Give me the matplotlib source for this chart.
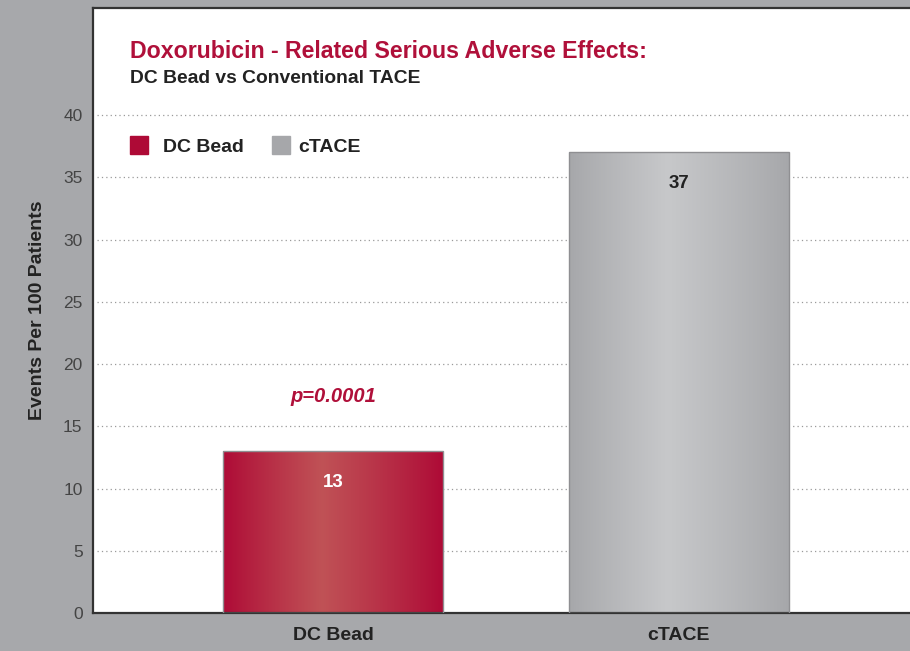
import matplotlib.pyplot as plt
import numpy as np
from matplotlib.colors import to_rgb

# data
groups = ['DC Bead', 'cTACE']
events = [13, 37]
value_labels = ['13', '37']
yticks = [0, 5, 10, 15, 20, 25, 30, 35, 40]

crimson = '#B0103A'
bg_gray = '#A7A8AB'
edge_cols = ['#AE0A36', '#A6A7AA']
mid_cols = ['#C05256', '#C7C8CA']

plt.rcParams['font.family'] = ['Liberation Sans', 'DejaVu Sans']

fig = plt.figure(figsize=(9.1, 6.51), dpi=100)
fig.patch.set_facecolor(bg_gray)
ax = fig.add_axes([93 / 910, 1 - 613 / 651, 1 - 93 / 910, (613 - 8) / 651])
ax.set_facecolor('white')

x = np.arange(len(groups))

# dotted gridlines (drawn below bars)
for yv in yticks[1:]:
    ax.plot([-0.682, 1.668], [yv, yv], linestyle=(0, (1, 2.5)), color='#9a9a9a',
            lw=0.9, zorder=1, clip_on=False)

bars = ax.bar(x, events, width=0.636, color='none', edgecolor='#8f8f92', lw=1.0, zorder=3)

# horizontal gradient fill for each bar
t = np.linspace(0, 1, 256)
peak = 0.45
w = np.where(t < peak, t / peak, (1 - t) / (1 - peak))
w = w ** 0.9
for b, ec, mc in zip(bars, edge_cols, mid_cols):
    e = np.array(to_rgb(ec))
    m = np.array(to_rgb(mc))
    grad = e[None, :] * (1 - w[:, None]) + m[None, :] * w[:, None]
    img = ax.imshow(grad[None, :, :], aspect='auto', zorder=2,
                    extent=[b.get_x(), b.get_x() + b.get_width(), 0, b.get_height()],
                    interpolation='bilinear')
    img.set_clip_path(b)
ax.set_xlim(-0.694, 1.668)
ax.set_ylim(0, 48.6)

# value labels
label_cols = ['white', '#222222']
for xi, v, lab, c in zip(x, events, value_labels, label_cols):
    ax.text(xi, v - 2.5, lab, ha='center', va='center', fontsize=13.5, fontweight='bold',
            color=c, zorder=4)

ax.text(0, 17.4, 'p=0.0001', ha='center', va='center', fontsize=14.5, fontweight='bold',
        fontstyle='italic', color=crimson, zorder=4)

# titles
ax.text(-0.587, 45.1, 'Doxorubicin - Related Serious Adverse Effects:', ha='left', va='center',
        fontsize=16.7, fontweight='bold', color=crimson)
ax.text(-0.587, 42.95, 'DC Bead vs Conventional TACE', ha='left', va='center',
        fontsize=13.9, fontweight='bold', color='#222222')

# legend
for lx, tx, col, name in [(-0.587, -0.491, edge_cols[0], 'DC Bead'),
                          (-0.176, -0.101, '#A6A7AA', 'cTACE')]:
    ax.add_patch(plt.Rectangle((lx, 36.87), 0.052, 1.44, color=col, clip_on=False, zorder=4))
    ax.text(tx, 37.4, name, ha='left', va='center', fontsize=14, fontweight='bold',
            color='#222222')

ax.set_yticks(yticks)
ax.set_yticklabels([str(v) for v in yticks], fontsize=12.5, color='#444444')
ax.set_xticks(x)
ax.set_xticklabels(groups, fontsize=14, fontweight='bold', color='#222222')
ax.tick_params(length=0)
ax.tick_params(axis='y', pad=7.5)
ax.tick_params(axis='x', pad=10)
ax.set_ylabel('Events Per 100 Patients', fontsize=14, fontweight='bold', color='#222222')
ax.yaxis.set_label_coords(-0.057, 0.5)

for s in ['left', 'top', 'bottom']:
    ax.spines[s].set_color('#333333')
    ax.spines[s].set_linewidth(1.6)
ax.spines['right'].set_visible(False)

fig.savefig('out.png', dpi=100, facecolor=bg_gray)
